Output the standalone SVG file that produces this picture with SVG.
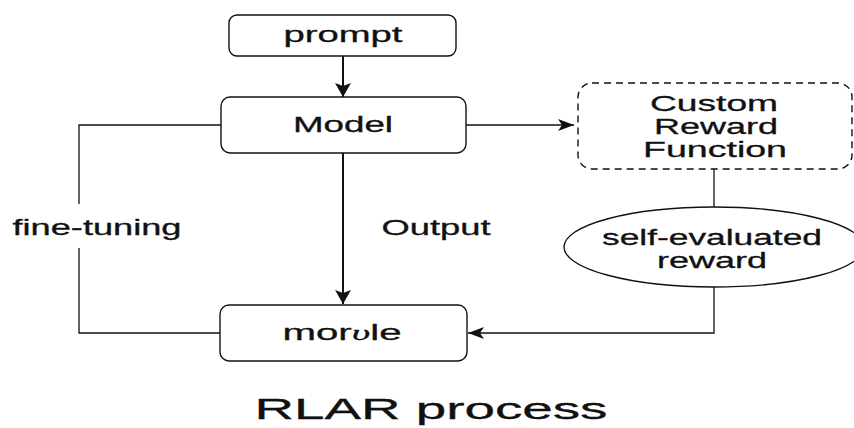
<svg xmlns="http://www.w3.org/2000/svg" width="854" height="428" viewBox="0 0 854 428">
  <style>
    .box { fill: #ffffff; stroke: #111111; stroke-width: 1.4; }
    .dash { fill: #ffffff; stroke: #111111; stroke-width: 1.4; stroke-dasharray: 7 5; }
    .lbl { font-family: "Liberation Sans", Arial, sans-serif; font-size: 22px; fill: #111111; text-anchor: middle; stroke: #111111; stroke-width: 0.3; }
    .wire { fill: none; stroke: #111111; stroke-width: 1.3; }
    .main { fill: none; stroke: #111111; stroke-width: 2; }
  </style>
  <defs>
    <marker id="head" viewBox="0 0 16 12" refX="16" refY="6" markerWidth="16" markerHeight="12" markerUnits="userSpaceOnUse" orient="auto">
      <path d="M0,0 L16,6 L0,12 L4,6 Z" fill="#111111"/>
    </marker>
    <marker id="headBig" viewBox="0 0 14 16" refX="14" refY="8" markerWidth="14" markerHeight="16" markerUnits="userSpaceOnUse" orient="auto">
      <path d="M0,0 L14,8 L0,16 L3,8 Z" fill="#111111"/>
    </marker>
  </defs>

  <!-- connectors -->
  <g id="connectors">
    <line class="main" x1="343" y1="56" x2="343" y2="97" marker-end="url(#headBig)"/>
    <line class="main" x1="343" y1="153" x2="343" y2="304" marker-end="url(#headBig)"/>
    <line class="wire" x1="466" y1="125" x2="574" y2="125" marker-end="url(#head)"/>
    <line class="wire" x1="714" y1="169" x2="714" y2="207"/>
    <polyline class="wire" points="714,287 714,333 468,333" marker-end="url(#head)"/>
    <polyline class="wire" points="221,125 79,125 79,204"/>
    <polyline class="wire" points="79,248 79,333 220,333"/>
  </g>

  <g id="prompt">
    <rect class="box" x="229" y="15" width="227" height="41" rx="8"/>
    <text class="lbl" x="343" y="42" textLength="119" lengthAdjust="spacingAndGlyphs">prompt</text>
  </g>

  <g id="model">
    <rect class="box" x="221" y="97" width="245" height="56" rx="9"/>
    <text class="lbl" x="343" y="132" textLength="100" lengthAdjust="spacingAndGlyphs">Model</text>
  </g>

  <g id="custom-reward">
    <rect class="dash" x="578" y="83" width="274" height="86" rx="14"/>
    <text class="lbl" x="714" y="111" textLength="128" lengthAdjust="spacingAndGlyphs">Custom</text>
    <text class="lbl" x="716" y="134" textLength="124" lengthAdjust="spacingAndGlyphs">Reward</text>
    <text class="lbl" x="715" y="157" textLength="144" lengthAdjust="spacingAndGlyphs">Function</text>
  </g>

  <g id="self-reward">
    <ellipse class="box" cx="714" cy="247" rx="150" ry="40"/>
    <text class="lbl" x="712" y="245" textLength="220" lengthAdjust="spacingAndGlyphs">self-evaluated</text>
    <text class="lbl" x="712" y="268" textLength="110" lengthAdjust="spacingAndGlyphs">reward</text>
  </g>

  <g id="morvle">
    <rect class="box" x="220" y="305" width="247" height="56" rx="9"/>
    <text class="lbl" x="342" y="340" textLength="119" lengthAdjust="spacingAndGlyphs">mor<tspan style="font-family:'Liberation Serif', serif; font-style:italic">υ</tspan>le</text>
  </g>

  <g id="labels">
    <text class="lbl" x="436" y="235" textLength="109" lengthAdjust="spacingAndGlyphs">Output</text>
    <text class="lbl" x="97" y="235" textLength="169" lengthAdjust="spacingAndGlyphs">fine-tuning</text>
    <text class="lbl" x="431" y="419" style="font-size:30px" textLength="353" lengthAdjust="spacingAndGlyphs">RLAR process</text>
  </g>
</svg>
